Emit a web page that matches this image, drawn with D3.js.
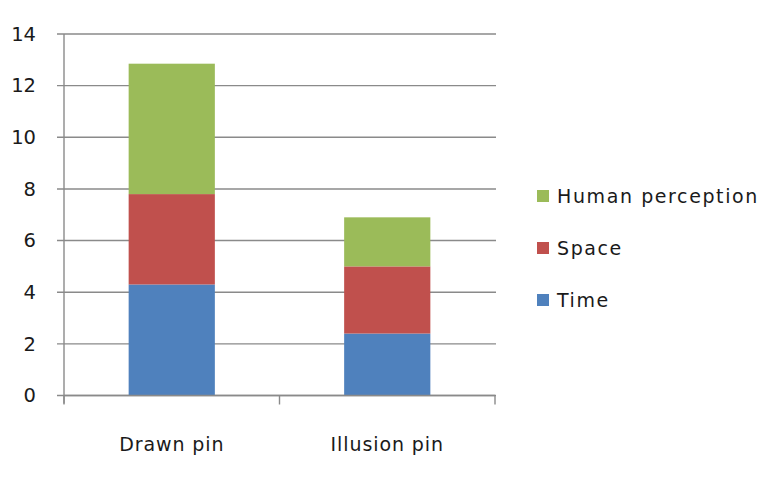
<!DOCTYPE html>
<html>
<head>
<meta charset="utf-8">
<script src="https://cdn.jsdelivr.net/npm/d3@7"></script>
<style>
  body { margin: 0; background: #fff; }
  text { font-family: "DejaVu Sans", Verdana, sans-serif; fill: #1a1a1a; }
</style>
</head>
<body>
<div id="chart"></div>
<script>
const categories = ["Drawn pin", "Illusion pin"];
const timeValues = [4.3, 2.4];
const spaceValues = [3.5, 2.6];
const perceptionValues = [5.05, 1.9];
const seriesNames = ["Time", "Space", "Human perception"];
const yTicks = [0, 2, 4, 6, 8, 10, 12, 14];

const width = 774, height = 490;
const colors = { "Time": "#4f81bd", "Space": "#c0504d", "Human perception": "#9bbb59" };

const rows = categories.map((c, i) => ({
    category: c,
    "Time": timeValues[i],
    "Space": spaceValues[i],
    "Human perception": perceptionValues[i]
}));

const stacked = d3.stack().keys(seriesNames)(rows);

const svg = d3.select("#chart")
    .append("svg")
    .attr("width", width)
    .attr("height", height);

const xScale = d3.scaleBand()
    .domain(categories)
    .range([64, 495])
    .paddingInner(0.6)
    .paddingOuter(0.3);

const yScale = d3.scaleLinear()
    .domain([0, 14])
    .range([395.5, 34]);

// gridlines
svg.append("g")
    .selectAll("line")
    .data(yTicks)
    .enter()
    .append("line")
    .attr("x1", 57)
    .attr("x2", 496)
    .attr("y1", d => yScale(d))
    .attr("y2", d => yScale(d))
    .attr("stroke", "#8a8a8a")
    .attr("stroke-width", 1.4);

// bars
svg.append("g")
    .selectAll("g")
    .data(stacked)
    .enter()
    .append("g")
    .attr("fill", d => colors[d.key])
    .selectAll("rect")
    .data(d => d)
    .enter()
    .append("rect")
    .attr("x", d => xScale(d.data.category))
    .attr("width", xScale.bandwidth())
    .attr("y", d => yScale(d[1]))
    .attr("height", d => yScale(d[0]) - yScale(d[1]));

// y axis
const yAxis = d3.axisLeft(yScale)
    .tickValues(yTicks)
    .tickSize(0)
    .tickPadding(28);

svg.append("g")
    .attr("transform", "translate(64, 0)")
    .call(yAxis)
    .call(g => g.select(".domain").attr("stroke", "#8a8a8a").attr("stroke-width", 1.4)
        .attr("d", `M0,${yScale(14)}V${yScale(0) + 8}`))
    .call(g => g.selectAll("text")
        .style("font-size", "19.5px")
        .style("font-family", "'DejaVu Sans', Verdana, sans-serif")
        .attr("fill", "#1a1a1a"));

// x axis
const xAxis = d3.axisBottom(xScale).tickSize(0).tickPadding(42);

const xg = svg.append("g")
    .attr("transform", `translate(0, ${yScale(0)})`)
    .call(xAxis);

xg.select(".domain").attr("stroke", "#8a8a8a").attr("stroke-width", 1.4)
    .attr("d", "M64,0H495");

xg.selectAll("text")
    .style("font-size", "19px")
    .style("font-family", "'DejaVu Sans', Verdana, sans-serif")
    .style("letter-spacing", "0.9px")
    .attr("fill", "#1a1a1a");

// category dividers on x axis
const edges = [64, 64 + (495 - 64) / 2, 495];
xg.selectAll(".edge")
    .data(edges)
    .enter()
    .append("line")
    .attr("class", "edge")
    .attr("x1", d => d)
    .attr("x2", d => d)
    .attr("y1", 0)
    .attr("y2", 9)
    .attr("stroke", "#8a8a8a")
    .attr("stroke-width", 1.4);

// legend
const legendItems = seriesNames.slice().reverse();
const legendY = d3.scalePoint().domain(legendItems).range([196, 300]);

const legend = svg.append("g");
legend.selectAll("rect")
    .data(legendItems)
    .enter()
    .append("rect")
    .attr("x", 537)
    .attr("y", d => legendY(d) - 6)
    .attr("width", 12)
    .attr("height", 12)
    .attr("fill", d => colors[d]);

legend.selectAll("text")
    .data(legendItems)
    .enter()
    .append("text")
    .attr("x", 557)
    .attr("y", d => legendY(d))
    .attr("dy", "0.35em")
    .style("font-size", "19px")
    .style("letter-spacing", "1.6px")
    .text(d => d);
</script>
</body>
</html>
